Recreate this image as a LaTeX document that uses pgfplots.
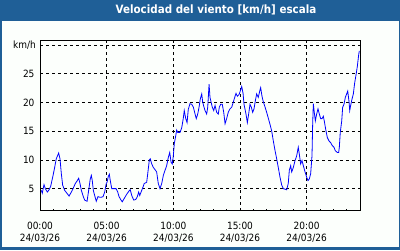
\documentclass[border=0pt]{standalone}
\usepackage{pgfplots}
\pgfplotsset{compat=1.18}
\usepackage{fontspec}
\setmainfont{DejaVu Sans Condensed}
\definecolor{titleblue}{RGB}{31,95,151}
\definecolor{bgwhite}{RGB}{252,255,252}
\begin{document}
\begin{tikzpicture}[x=1pt,y=1pt]
\fill[titleblue] (0,0) rectangle (400,250);
\fill[bgwhite] (2,3) rectangle (399,229.3);
\node[text=white,font=\bfseries\fontsize{11.5}{12}\selectfont] at (216,240) {Velocidad del viento [km/h] escala};
\begin{axis}[
  at={(40pt,39.3pt)}, anchor=south west,
  scale only axis, width=320pt, height=170.7pt,
  xmin=0, xmax=24, ymin=1.15, ymax=30.9,
  axis line style={black, line width=0.9pt},
  xtick={0,5,10,15,20},
  xticklabels={{00:00\\24/03/26},{05:00\\24/03/26},{10:00\\24/03/26},{15:00\\24/03/26},{20:00\\24/03/26}},
  xticklabel style={align=center, font=\fontsize{10}{11.7}\selectfont, yshift=-8pt},
  minor xtick={1,2,3,4,6,7,8,9,11,12,13,14,16,17,18,19,21,22,23},
  ytick={5,10,15,20,25,30},
  yticklabels={5,10,15,20,25,},
  yticklabel style={font=\fontsize{10}{11}\selectfont, xshift=-2pt},
  /pgf/number format/assume math mode=true,
  tick align=inside, major tick length=2pt, minor tick length=2pt,
  xtick pos=bottom, ytick pos=left,
  grid=major,
  major grid style={black, dash pattern=on 3pt off 3pt, line width=0.8pt},
  tick style={black, line width=0.8pt},
  clip mode=individual,
]
\addplot[blue, line width=0.8pt] coordinates {
(0.10,4.7)(0.17,4.2)(0.30,5.7)(0.40,5.0)(0.55,4.4)(0.68,4.8)(0.80,5.4)(0.98,7.3)
(1.10,8.7)(1.22,10.2)(1.40,11.2)(1.50,10.2)(1.60,7.6)(1.70,5.6)(1.85,4.7)(2.05,4.1)
(2.18,3.7)(2.35,4.4)(2.48,5.0)(2.65,5.9)(2.80,6.4)(2.90,6.8)(3.00,5.9)(3.10,4.7)
(3.25,3.6)(3.35,3.0)(3.53,2.8)(3.65,4.7)(3.77,6.7)(3.85,7.3)(3.92,6.4)(4.00,4.7)
(4.10,3.8)(4.22,2.8)(4.35,3.6)(4.48,3.5)(4.60,3.5)(4.73,3.6)(4.85,4.4)(4.97,5.9)
(5.03,6.1)(5.12,7.1)(5.20,7.5)(5.27,6.4)(5.38,5.0)(5.70,5.0)(5.83,4.4)(5.93,3.6)
(6.05,3.1)(6.17,2.7)(6.32,3.3)(6.50,4.0)(6.68,4.6)(6.77,4.8)(6.88,3.8)(7.03,3.0)
(7.18,3.1)(7.30,3.6)(7.40,4.4)(7.48,3.8)(7.58,4.4)(7.73,5.3)(7.82,5.9)(8.00,6.1)
(8.08,7.6)(8.20,10.0)(8.27,10.2)(8.38,9.3)(8.50,8.7)(8.63,8.3)(8.75,7.9)(8.87,5.9)
(9.00,5.0)(9.13,5.9)(9.25,7.3)(9.38,8.2)(9.50,9.0)(9.62,10.4)(9.73,11.3)(9.83,9.6)
(9.92,9.3)(10.00,10.7)(10.07,12.8)(10.18,14.2)(10.25,15.2)(10.33,14.8)(10.50,14.8)(10.63,15.6)
(10.75,17.3)(10.82,18.6)(10.93,17.2)(11.03,16.5)(11.12,18.8)(11.25,19.8)(11.38,19.7)(11.50,19.2)
(11.63,18.0)(11.72,17.2)(11.83,18.0)(11.93,19.2)(12.02,20.6)(12.13,21.5)(12.20,20.1)(12.30,19.2)
(12.38,18.6)(12.50,18.0)(12.58,19.2)(12.68,23.2)(12.75,20.9)(12.83,20.1)(12.92,19.2)(13.03,18.6)
(13.13,19.5)(13.25,18.3)(13.37,18.0)(13.45,19.2)(13.55,19.7)(13.67,19.7)(13.78,18.3)(13.88,16.3)
(14.00,17.2)(14.12,18.3)(14.25,18.9)(14.38,19.2)(14.50,20.1)(14.63,21.1)(14.70,21.6)(14.80,21.1)
(14.93,21.4)(15.02,22.0)(15.13,22.8)(15.23,21.6)(15.30,19.7)(15.45,18.0)(15.55,16.5)(15.65,18.0)
(15.75,19.7)(15.85,19.2)(15.95,18.3)(16.05,18.9)(16.15,20.3)(16.25,21.5)(16.37,20.9)(16.50,22.2)
(16.55,22.6)(16.65,21.1)(16.75,20.1)(16.88,19.2)(17.00,18.3)(17.12,17.3)(17.25,16.2)(17.38,15.0)
(17.50,13.3)(17.63,11.6)(17.75,10.2)(17.87,8.7)(18.00,7.0)(18.13,5.6)(18.25,5.0)(18.38,4.9)
(18.50,4.8)(18.62,5.9)(18.70,8.2)(18.80,9.0)(18.88,7.9)(19.00,8.7)(19.13,9.9)(19.25,10.7)
(19.37,12.2)(19.45,11.0)(19.55,9.3)(19.65,9.9)(19.75,9.0)(19.88,7.9)(20.00,7.0)(20.10,6.4)
(20.20,6.7)(20.30,7.6)(20.40,10.7)(20.45,16.2)(20.50,19.8)(20.57,18.3)(20.65,16.8)(20.75,18.0)
(20.85,18.9)(20.95,18.0)(21.05,17.2)(21.15,17.2)(21.25,17.6)(21.32,16.8)(21.43,15.3)(21.55,13.9)
(21.68,13.3)(21.80,13.0)(21.92,12.5)(22.05,12.2)(22.15,11.6)(22.30,11.3)(22.40,11.3)(22.45,12.2)
(22.52,14.8)(22.63,16.8)(22.70,19.2)(22.80,19.7)(22.90,20.9)(23.00,21.5)(23.08,22.0)(23.18,20.1)
(23.23,18.6)(23.30,19.5)(23.40,20.6)(23.50,21.5)(23.60,23.4)(23.70,24.8)(23.80,26.3)(23.90,28.3)
(23.95,29.0)
};
\end{axis}
\node[anchor=east, font=\fontsize{10}{11}\selectfont, inner sep=0pt] at (36,205) {km/h};
\end{tikzpicture}
\end{document}
